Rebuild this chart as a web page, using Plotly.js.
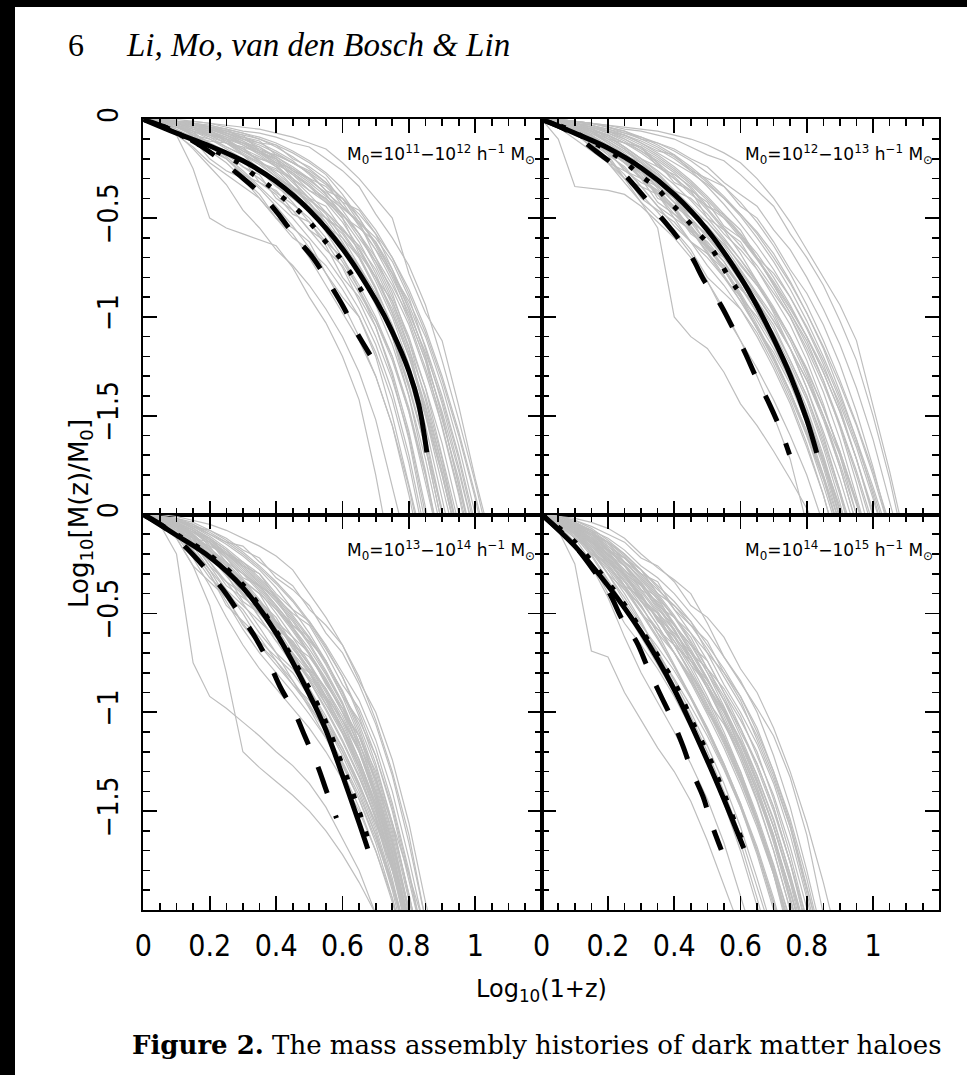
<!DOCTYPE html>
<html><head><meta charset="utf-8">
<script src="https://cdn.plot.ly/plotly-3.0.1.min.js"></script>
<style>html,body{margin:0;padding:0;background:#fff;}#chart{width:967px;height:1075px;}</style>
</head><body><div id="chart"></div>
<script>
// shared redshift grid (log10(1+z)) for the individual halo histories
const xGrid = [0,0.05,0.1,0.15,0.2,0.25,0.3,0.35,0.4,0.45,0.5,0.55,0.6,0.65,0.7,0.75,0.8,0.85,0.9,0.95,1,1.05,1.1];

const panelLabels = [
  "M<sub>0</sub>=10<sup>11</sup>−10<sup>12</sup> h<sup>−1</sup> M<sub>⊙</sub>",
  "M<sub>0</sub>=10<sup>12</sup>−10<sup>13</sup> h<sup>−1</sup> M<sub>⊙</sub>",
  "M<sub>0</sub>=10<sup>13</sup>−10<sup>14</sup> h<sup>−1</sup> M<sub>⊙</sub>",
  "M<sub>0</sub>=10<sup>14</sup>−10<sup>15</sup> h<sup>−1</sup> M<sub>⊙</sub>"
];
const xTickVals = [0,0.2,0.4,0.6,0.8,1,1.2];
const xTickText = ["0","0.2","0.4","0.6","0.8","1",""];
const yTickVals = [0,-0.5,-1,-1.5,-2];
const yTickText = ["0","−0.5","−1","−1.5",""];

// ---- panel 1: 1e11-1e12 ----
const grayTL = [
 [0,-0.02,-0.08,-0.25,-0.50,-0.55,-0.58,-0.61,-0.64,-0.75,-0.90,-1.03,-1.20,-1.42,-1.80,-2.25],
 [0,-0.02,-0.07,-0.15,-0.24,-0.33,-0.46,-0.55,-0.66,-0.74,-0.84,-0.96,-1.10,-1.28,-1.52,-1.85,-2.2],
 [0,-0.01,-0.05,-0.10,-0.16,-0.22,-0.30,-0.40,-0.50,-0.58,-0.70,-0.84,-0.98,-1.12,-1.30,-1.55,-1.90,-2.3],
 [0,-0.01,-0.03,-0.06,-0.10,-0.15,-0.20,-0.26,-0.33,-0.42,-0.52,-0.62,-0.75,-0.92,-1.10,-1.32,-1.60,-2.0,-2.4],
 [0,0,-0.02,-0.05,-0.08,-0.12,-0.17,-0.22,-0.29,-0.36,-0.45,-0.57,-0.70,-0.86,-1.02,-1.22,-1.48,-1.80,-2.2],
 [0,-0.01,-0.02,-0.04,-0.07,-0.10,-0.13,-0.18,-0.24,-0.32,-0.40,-0.48,-0.60,-0.74,-0.90,-1.10,-1.36,-1.66,-1.98,-2.3],
 [0,0,-0.01,-0.03,-0.05,-0.08,-0.12,-0.16,-0.21,-0.27,-0.34,-0.42,-0.52,-0.65,-0.80,-0.96,-1.18,-1.45,-1.75,-2.1],
 [0,0,-0.01,-0.02,-0.04,-0.06,-0.09,-0.12,-0.16,-0.21,-0.28,-0.36,-0.46,-0.58,-0.74,-0.92,-1.12,-1.36,-1.64,-1.98,-2.35],
 [0,0,0,-0.01,-0.02,-0.03,-0.04,-0.05,-0.07,-0.09,-0.12,-0.15,-0.22,-0.30,-0.40,-0.50,-0.78,-0.98,-1.12,-1.45,-1.82,-2.15],
 [0,0,-0.01,-0.02,-0.03,-0.05,-0.07,-0.09,-0.12,-0.16,-0.21,-0.27,-0.35,-0.45,-0.56,-0.70,-0.88,-1.08,-1.32,-1.60,-1.92,-2.3],
 [0,-0.01,-0.03,-0.05,-0.07,-0.11,-0.16,-0.20,-0.23,-0.27,-0.33,-0.41,-0.50,-0.62,-0.78,-0.98,-1.20,-1.48,-1.80,-2.15],
 [0,-0.01,-0.02,-0.05,-0.09,-0.14,-0.18,-0.23,-0.29,-0.35,-0.43,-0.50,-0.56,-0.66,-0.82,-1.00,-1.24,-1.55,-1.92,-2.3],
 [0,-0.01,-0.03,-0.07,-0.12,-0.18,-0.24,-0.30,-0.37,-0.43,-0.50,-0.60,-0.72,-0.86,-1.05,-1.28,-1.58,-1.95,-2.35],
 [0,0,-0.02,-0.04,-0.06,-0.09,-0.13,-0.17,-0.22,-0.25,-0.30,-0.38,-0.48,-0.60,-0.72,-0.86,-1.04,-1.28,-1.55,-1.88,-2.25],
 [0,0,-0.01,-0.03,-0.05,-0.08,-0.11,-0.15,-0.19,-0.24,-0.30,-0.38,-0.49,-0.55,-0.62,-0.76,-0.94,-1.15,-1.40,-1.70,-2.05],
 [0,-0.01,-0.02,-0.04,-0.06,-0.09,-0.12,-0.16,-0.20,-0.26,-0.32,-0.39,-0.45,-0.52,-0.62,-0.78,-1.00,-1.22,-1.48,-1.78,-2.12],
 [0,0,-0.01,-0.02,-0.04,-0.06,-0.08,-0.10,-0.13,-0.17,-0.22,-0.28,-0.38,-0.50,-0.63,-0.78,-0.92,-1.10,-1.35,-1.65,-2.0,-2.35],
 [0,-0.01,-0.02,-0.03,-0.05,-0.07,-0.10,-0.14,-0.19,-0.25,-0.31,-0.37,-0.44,-0.53,-0.66,-0.82,-1.02,-1.26,-1.52,-1.82,-2.2],
 [0,0,-0.01,-0.03,-0.06,-0.10,-0.15,-0.21,-0.28,-0.35,-0.41,-0.47,-0.55,-0.66,-0.80,-0.98,-1.20,-1.46,-1.78,-2.15],
 [0,-0.01,-0.03,-0.06,-0.09,-0.12,-0.16,-0.21,-0.27,-0.34,-0.42,-0.52,-0.64,-0.78,-0.94,-1.14,-1.40,-1.72,-2.1],
 [0,-0.01,-0.04,-0.08,-0.13,-0.19,-0.26,-0.34,-0.42,-0.50,-0.60,-0.70,-0.82,-0.96,-1.14,-1.38,-1.70,-2.1],
 [0,0,-0.01,-0.02,-0.03,-0.05,-0.07,-0.10,-0.14,-0.19,-0.25,-0.32,-0.40,-0.48,-0.58,-0.70,-0.86,-1.06,-1.30,-1.58,-1.90,-2.25],
 [0,-0.01,-0.02,-0.04,-0.07,-0.11,-0.15,-0.19,-0.24,-0.30,-0.38,-0.47,-0.57,-0.69,-0.85,-1.05,-1.30,-1.62,-2.0,-2.4],
 [0,0,-0.02,-0.04,-0.08,-0.12,-0.18,-0.25,-0.32,-0.40,-0.47,-0.54,-0.63,-0.75,-0.90,-1.10,-1.35,-1.66,-2.05],
 [0,0,-0.01,-0.02,-0.04,-0.07,-0.11,-0.16,-0.22,-0.28,-0.34,-0.40,-0.48,-0.58,-0.70,-0.88,-1.12,-1.42,-1.75,-2.12],
 [0,-0.01,-0.02,-0.03,-0.05,-0.08,-0.12,-0.17,-0.23,-0.31,-0.40,-0.50,-0.62,-0.76,-0.90,-1.06,-1.25,-1.50,-1.80,-2.15],
 [0,0,-0.01,-0.02,-0.04,-0.07,-0.10,-0.13,-0.17,-0.22,-0.27,-0.33,-0.40,-0.50,-0.64,-0.80,-0.98,-1.18,-1.42,-1.72,-2.08],
 [0,-0.02,-0.05,-0.09,-0.14,-0.20,-0.27,-0.35,-0.44,-0.54,-0.65,-0.78,-0.93,-1.10,-1.30,-1.55,-1.86,-2.25],
 [0,-0.01,-0.02,-0.09,-0.11,-0.12,-0.14,-0.22,-0.26,-0.30,-0.45,-0.50,-0.58,-0.70,-0.86,-1.10,-1.40,-1.78,-2.2],
 [0,0,-0.02,-0.03,-0.05,-0.12,-0.14,-0.17,-0.20,-0.30,-0.36,-0.40,-0.50,-0.68,-0.80,-0.92,-1.15,-1.50,-1.85,-2.2],
 [0,-0.01,-0.04,-0.06,-0.14,-0.18,-0.20,-0.32,-0.38,-0.48,-0.52,-0.64,-0.80,-0.90,-1.05,-1.30,-1.62,-2.05],
 [0,0,-0.01,-0.02,-0.04,-0.05,-0.10,-0.12,-0.13,-0.20,-0.24,-0.30,-0.42,-0.46,-0.58,-0.76,-0.96,-1.20,-1.50,-1.86,-2.2],
 [0,-0.03,-0.06,-0.10,-0.20,-0.26,-0.30,-0.38,-0.50,-0.55,-0.62,-0.78,-0.90,-1.00,-1.20,-1.50,-1.85,-2.2],
 [0,0,-0.01,-0.03,-0.04,-0.06,-0.08,-0.16,-0.18,-0.22,-0.27,-0.36,-0.40,-0.52,-0.70,-0.84,-1.00,-1.22,-1.56,-1.90,-2.3],
 [0,-0.01,-0.02,-0.06,-0.08,-0.10,-0.18,-0.22,-0.25,-0.34,-0.40,-0.44,-0.56,-0.64,-0.76,-0.94,-1.16,-1.40,-1.72,-2.1],
 [0,0,-0.01,-0.01,-0.02,-0.04,-0.06,-0.07,-0.09,-0.12,-0.14,-0.20,-0.26,-0.34,-0.48,-0.60,-0.74,-0.94,-1.22,-1.52,-1.84,-2.2],
 [0,-0.02,-0.04,-0.07,-0.12,-0.16,-0.24,-0.28,-0.40,-0.46,-0.56,-0.66,-0.74,-0.88,-1.02,-1.20,-1.48,-1.84,-2.2],
 [0,0,-0.01,-0.02,-0.05,-0.07,-0.09,-0.11,-0.18,-0.22,-0.26,-0.32,-0.44,-0.52,-0.60,-0.72,-0.90,-1.16,-1.44,-1.76,-2.12],
 [0,-0.02,-0.06,-0.12,-0.16,-0.20,-0.28,-0.32,-0.36,-0.46,-0.56,-0.62,-0.70,-0.84,-1.00,-1.20,-1.46,-1.80,-2.2],
 [0,-0.01,-0.03,-0.08,-0.10,-0.14,-0.18,-0.26,-0.30,-0.34,-0.42,-0.54,-0.60,-0.70,-0.86,-1.04,-1.28,-1.60,-1.98,-2.3],
 [0,-0.02,-0.04,-0.08,-0.14,-0.18,-0.22,-0.26,-0.34,-0.40,-0.44,-0.52,-0.64,-0.74,-0.88,-1.08,-1.34,-1.66,-2.05],
 [0,-0.01,-0.02,-0.04,-0.06,-0.10,-0.16,-0.20,-0.22,-0.28,-0.36,-0.42,-0.48,-0.58,-0.72,-0.90,-1.10,-1.36,-1.70,-2.05],
 [0,-0.03,-0.08,-0.14,-0.22,-0.28,-0.34,-0.40,-0.50,-0.60,-0.66,-0.74,-0.86,-1.00,-1.18,-1.42,-1.74,-2.15],
 [0,0,-0.02,-0.04,-0.08,-0.10,-0.12,-0.14,-0.20,-0.26,-0.30,-0.34,-0.42,-0.54,-0.66,-0.78,-0.96,-1.20,-1.50,-1.84,-2.2]
];
const solidTLx = [0,0.1,0.2,0.3,0.4,0.5,0.6,0.7,0.75,0.8,0.83,0.854];
const solidTLy = [0,-0.07,-0.135,-0.21,-0.315,-0.46,-0.655,-0.915,-1.075,-1.275,-1.446,-1.686];
const dotTLx = [0,0.08,0.151,0.231,0.281,0.331,0.382,0.422,0.470,0.510,0.547,0.587,0.620,0.653,0.683];
const dotTLy = [0,-0.05,-0.115,-0.172,-0.214,-0.278,-0.340,-0.399,-0.467,-0.538,-0.615,-0.690,-0.767,-0.855,-0.935];
const dashTLx = [0,0.08,0.15,0.216,0.291,0.357,0.407,0.457,0.512,0.557,0.602,0.638,0.683];
const dashTLy = [0,-0.05,-0.11,-0.184,-0.285,-0.383,-0.480,-0.593,-0.703,-0.821,-0.947,-1.065,-1.192];

// ---- panel 2: 1e12-1e13 ----
const grayTR = [
 [0,-0.10,-0.34,-0.35,-0.36,-0.38,-0.44,-0.52,-0.60,-0.70,-0.82,-0.96,-1.12,-1.30,-1.50,-1.72,-2.05],
 [0,-0.02,-0.06,-0.12,-0.20,-0.30,-0.42,-0.55,-1.00,-1.10,-1.16,-1.28,-1.44,-1.55,-1.68,-1.82,-1.97,-2.15],
 [0,-0.02,-0.07,-0.14,-0.22,-0.30,-0.38,-0.47,-0.57,-0.68,-0.82,-0.98,-1.12,-1.26,-1.42,-1.60,-1.80,-2.05],
 [0,-0.01,-0.04,-0.08,-0.14,-0.22,-0.30,-0.38,-0.46,-0.54,-0.64,-0.76,-0.90,-1.06,-1.22,-1.40,-1.60,-1.82,-2.08],
 [0,-0.01,-0.03,-0.06,-0.10,-0.15,-0.22,-0.30,-0.40,-0.50,-0.60,-0.70,-0.82,-0.96,-1.12,-1.30,-1.50,-1.72,-1.96,-2.22],
 [0,0,-0.02,-0.04,-0.07,-0.11,-0.16,-0.22,-0.29,-0.37,-0.46,-0.56,-0.68,-0.82,-0.98,-1.16,-1.36,-1.58,-1.82,-2.1],
 [0,0,-0.01,-0.02,-0.03,-0.04,-0.05,-0.06,-0.08,-0.10,-0.13,-0.17,-0.22,-0.30,-0.40,-0.52,-0.66,-0.80,-0.94,-1.12,-1.45,-1.78,-2.15],
 [0,0,-0.01,-0.03,-0.05,-0.07,-0.09,-0.12,-0.16,-0.21,-0.27,-0.34,-0.42,-0.52,-0.64,-0.78,-0.94,-1.12,-1.32,-1.54,-1.78,-2.05],
 [0,-0.01,-0.03,-0.05,-0.08,-0.12,-0.17,-0.23,-0.30,-0.38,-0.44,-0.50,-0.58,-0.68,-0.80,-0.94,-1.10,-1.28,-1.48,-1.72,-2.0,-2.3],
 [0,-0.01,-0.02,-0.04,-0.06,-0.09,-0.13,-0.18,-0.24,-0.31,-0.39,-0.48,-0.58,-0.70,-0.84,-0.98,-1.14,-1.32,-1.54,-1.78,-2.05],
 [0,0,-0.02,-0.05,-0.09,-0.14,-0.20,-0.26,-0.33,-0.41,-0.50,-0.60,-0.71,-0.83,-0.96,-1.10,-1.26,-1.46,-1.68,-1.94,-2.2],
 [0,-0.02,-0.05,-0.10,-0.17,-0.25,-0.34,-0.44,-0.54,-0.62,-0.70,-0.80,-0.92,-1.05,-1.20,-1.38,-1.58,-1.82,-2.1],
 [0,-0.01,-0.02,-0.03,-0.05,-0.08,-0.12,-0.17,-0.22,-0.27,-0.33,-0.40,-0.48,-0.57,-0.68,-0.82,-0.98,-1.16,-1.38,-1.62,-1.90,-2.2],
 [0,-0.01,-0.04,-0.09,-0.15,-0.21,-0.27,-0.34,-0.42,-0.50,-0.59,-0.69,-0.80,-0.92,-1.06,-1.22,-1.40,-1.62,-1.88,-2.15],
 [0,0,-0.01,-0.02,-0.04,-0.06,-0.09,-0.13,-0.18,-0.24,-0.31,-0.39,-0.48,-0.58,-0.70,-0.83,-0.98,-1.15,-1.34,-1.55,-1.80,-2.08],
 [0,-0.02,-0.06,-0.11,-0.16,-0.22,-0.29,-0.37,-0.46,-0.56,-0.67,-0.79,-0.92,-1.06,-1.21,-1.38,-1.58,-1.80,-2.05],
 [0,-0.01,-0.03,-0.06,-0.11,-0.17,-0.24,-0.32,-0.40,-0.48,-0.55,-0.63,-0.73,-0.84,-0.97,-1.12,-1.30,-1.50,-1.74,-2.0,-2.3],
 [0,0,-0.01,-0.03,-0.06,-0.10,-0.15,-0.20,-0.26,-0.33,-0.41,-0.50,-0.60,-0.71,-0.83,-0.96,-1.10,-1.26,-1.44,-1.66,-1.92,-2.2],
 [0,-0.02,-0.05,-0.09,-0.14,-0.20,-0.28,-0.38,-0.48,-0.57,-0.65,-0.74,-0.85,-0.98,-1.13,-1.30,-1.50,-1.74,-2.02],
 [0,-0.01,-0.02,-0.04,-0.07,-0.10,-0.14,-0.19,-0.25,-0.32,-0.40,-0.49,-0.59,-0.70,-0.82,-0.95,-1.10,-1.28,-1.48,-1.72,-1.98,-2.25],
 [0,-0.01,-0.03,-0.07,-0.12,-0.18,-0.25,-0.33,-0.42,-0.52,-0.63,-0.75,-0.88,-1.02,-1.16,-1.32,-1.50,-1.72,-1.98,-2.25],
 [0,0,-0.02,-0.04,-0.06,-0.08,-0.11,-0.15,-0.20,-0.26,-0.34,-0.43,-0.53,-0.64,-0.76,-0.90,-1.05,-1.22,-1.42,-1.64,-1.88,-2.15],
 [0,-0.01,-0.03,-0.05,-0.09,-0.14,-0.20,-0.27,-0.36,-0.46,-0.57,-0.68,-0.79,-0.90,-1.02,-1.16,-1.32,-1.52,-1.76,-2.05],
 [0,-0.01,-0.02,-0.05,-0.08,-0.12,-0.16,-0.21,-0.27,-0.35,-0.45,-0.55,-0.64,-0.74,-0.86,-1.00,-1.16,-1.34,-1.55,-1.80,-2.08],
 [0,-0.01,-0.04,-0.08,-0.13,-0.19,-0.26,-0.35,-0.45,-0.55,-0.65,-0.76,-0.89,-1.04,-1.20,-1.38,-1.60,-1.85,-2.12],
 [0,0,-0.01,-0.02,-0.04,-0.07,-0.10,-0.14,-0.19,-0.25,-0.32,-0.40,-0.49,-0.60,-0.72,-0.86,-1.02,-1.20,-1.40,-1.62,-1.86,-2.12],
 [0,-0.02,-0.04,-0.07,-0.11,-0.16,-0.22,-0.29,-0.37,-0.46,-0.56,-0.66,-0.77,-0.89,-1.02,-1.16,-1.32,-1.50,-1.70,-1.94,-2.2],
 [0,-0.01,-0.03,-0.06,-0.10,-0.15,-0.21,-0.28,-0.36,-0.44,-0.52,-0.61,-0.71,-0.82,-0.95,-1.10,-1.27,-1.46,-1.68,-1.93,-2.2],
 [0,-0.01,-0.03,-0.12,-0.14,-0.18,-0.30,-0.34,-0.40,-0.52,-0.58,-0.66,-0.82,-0.92,-1.04,-1.22,-1.40,-1.64,-1.90,-2.2],
 [0,0,-0.02,-0.04,-0.10,-0.12,-0.14,-0.24,-0.28,-0.34,-0.44,-0.48,-0.56,-0.70,-0.78,-0.90,-1.06,-1.24,-1.46,-1.72,-2.0,-2.3],
 [0,-0.02,-0.05,-0.08,-0.16,-0.22,-0.26,-0.40,-0.44,-0.50,-0.64,-0.70,-0.80,-0.96,-1.08,-1.24,-1.42,-1.66,-1.94,-2.25],
 [0,0,-0.01,-0.02,-0.03,-0.05,-0.06,-0.08,-0.10,-0.14,-0.18,-0.21,-0.28,-0.36,-0.44,-0.58,-0.70,-0.84,-1.02,-1.22,-1.50,-1.82,-2.2],
 [0,-0.01,-0.04,-0.06,-0.08,-0.14,-0.20,-0.24,-0.30,-0.36,-0.50,-0.56,-0.62,-0.76,-0.88,-1.00,-1.18,-1.38,-1.62,-1.90,-2.2],
 [0,-0.03,-0.06,-0.10,-0.18,-0.30,-0.34,-0.38,-0.50,-0.62,-0.68,-0.76,-0.90,-1.06,-1.18,-1.34,-1.54,-1.80,-2.1],
 [0,0,-0.02,-0.03,-0.06,-0.08,-0.12,-0.16,-0.18,-0.26,-0.30,-0.34,-0.44,-0.50,-0.62,-0.76,-0.88,-1.04,-1.24,-1.48,-1.76,-2.08],
 [0,-0.01,-0.03,-0.05,-0.08,-0.12,-0.14,-0.22,-0.32,-0.36,-0.42,-0.54,-0.60,-0.70,-0.84,-0.98,-1.12,-1.32,-1.56,-1.84,-2.15],
 [0,-0.02,-0.04,-0.10,-0.14,-0.20,-0.30,-0.36,-0.44,-0.56,-0.62,-0.72,-0.86,-0.94,-1.10,-1.28,-1.48,-1.72,-2.0,-2.3],
 [0,0,-0.01,-0.02,-0.04,-0.06,-0.10,-0.12,-0.15,-0.20,-0.24,-0.32,-0.38,-0.44,-0.56,-0.66,-0.80,-0.96,-1.14,-1.36,-1.62,-1.92,-2.25],
 [0,-0.02,-0.06,-0.14,-0.20,-0.28,-0.40,-0.46,-0.52,-0.62,-0.74,-0.84,-0.96,-1.10,-1.26,-1.44,-1.66,-1.90,-2.2],
 [0,-0.03,-0.08,-0.12,-0.18,-0.24,-0.34,-0.44,-0.50,-0.56,-0.68,-0.80,-0.90,-1.00,-1.14,-1.32,-1.52,-1.76,-2.05],
 [0,-0.01,-0.04,-0.10,-0.16,-0.26,-0.32,-0.36,-0.46,-0.58,-0.64,-0.72,-0.84,-0.98,-1.12,-1.30,-1.50,-1.74,-2.02],
 [0,-0.02,-0.05,-0.09,-0.16,-0.20,-0.26,-0.34,-0.42,-0.48,-0.54,-0.64,-0.76,-0.88,-1.00,-1.16,-1.36,-1.60,-1.88,-2.2],
 [0,-0.04,-0.10,-0.16,-0.22,-0.32,-0.42,-0.50,-0.56,-0.66,-0.80,-0.88,-0.96,-1.08,-1.24,-1.42,-1.64,-1.90,-2.2],
 [0,-0.02,-0.04,-0.08,-0.14,-0.22,-0.26,-0.30,-0.38,-0.46,-0.52,-0.62,-0.74,-0.84,-0.96,-1.10,-1.28,-1.50,-1.76,-2.05],
 [0,-0.01,-0.03,-0.06,-0.12,-0.18,-0.22,-0.28,-0.36,-0.40,-0.48,-0.58,-0.66,-0.76,-0.90,-1.04,-1.22,-1.44,-1.70,-2.0,-2.3],
 [0,-0.03,-0.06,-0.12,-0.22,-0.26,-0.30,-0.42,-0.48,-0.54,-0.66,-0.74,-0.84,-0.98,-1.10,-1.26,-1.46,-1.70,-1.98,-2.3]
];
const solidTRx = [0,0.1,0.2,0.3,0.4,0.5,0.6,0.65,0.7,0.75,0.8,0.83];
const solidTRy = [0,-0.07,-0.145,-0.245,-0.38,-0.56,-0.80,-0.945,-1.11,-1.295,-1.52,-1.688];
const dotTRx = [0,0.08,0.151,0.206,0.256,0.296,0.346,0.387,0.427,0.467,0.507,0.537,0.567,0.602];
const dotTRy = [0,-0.05,-0.113,-0.164,-0.223,-0.282,-0.346,-0.420,-0.487,-0.565,-0.639,-0.720,-0.804,-0.888];
const dashTRx = [0,0.085,0.166,0.236,0.291,0.346,0.396,0.452,0.492,0.537,0.572,0.612,0.648,0.688,0.723,0.748];
const dashTRy = [0,-0.063,-0.164,-0.256,-0.357,-0.467,-0.568,-0.695,-0.821,-0.930,-1.040,-1.175,-1.309,-1.444,-1.579,-1.697];

// ---- panel 3: 1e13-1e14 ----
const grayBL = [
 [0,-0.05,-0.20,-0.75,-0.92,-0.98,-1.05,-1.12,-1.20,-1.27,-1.36,-1.48,-1.64,-1.80,-2.02,-2.3],
 [0,-0.04,-0.12,-0.26,-0.46,-0.80,-1.20,-1.28,-1.35,-1.42,-1.50,-1.60,-1.72,-1.86,-2.02,-2.3],
 [0,0,-0.01,-0.03,-0.05,-0.08,-0.12,-0.16,-0.21,-0.28,-0.40,-0.52,-0.66,-0.82,-1.04,-1.30,-1.62,-2.05],
 [0,-0.02,-0.06,-0.12,-0.20,-0.29,-0.40,-0.52,-0.64,-0.76,-0.88,-1.02,-1.18,-1.36,-1.56,-1.80,-2.08],
 [0,-0.01,-0.04,-0.08,-0.14,-0.21,-0.29,-0.38,-0.48,-0.59,-0.71,-0.85,-1.00,-1.20,-1.44,-1.72,-2.05],
 [0,-0.02,-0.05,-0.10,-0.17,-0.25,-0.34,-0.44,-0.55,-0.67,-0.80,-0.94,-1.10,-1.28,-1.50,-1.76,-2.05],
 [0,-0.01,-0.03,-0.06,-0.10,-0.15,-0.21,-0.28,-0.37,-0.48,-0.60,-0.74,-0.90,-1.10,-1.34,-1.64,-2.0,-2.3],
 [0,-0.03,-0.08,-0.15,-0.24,-0.34,-0.45,-0.57,-0.70,-0.84,-0.98,-1.13,-1.30,-1.48,-1.70,-1.96,-2.25],
 [0,-0.02,-0.06,-0.14,-0.26,-0.38,-0.46,-0.54,-0.62,-0.72,-0.84,-0.98,-1.14,-1.32,-1.54,-1.80,-2.1],
 [0,-0.01,-0.03,-0.07,-0.12,-0.18,-0.26,-0.35,-0.44,-0.54,-0.66,-0.80,-0.96,-1.18,-1.44,-1.75,-2.1],
 [0,-0.02,-0.07,-0.16,-0.28,-0.42,-0.55,-0.66,-0.76,-0.86,-0.97,-1.10,-1.25,-1.42,-1.62,-1.86,-2.15],
 [0,-0.01,-0.04,-0.09,-0.15,-0.22,-0.30,-0.39,-0.50,-0.62,-0.75,-0.89,-1.04,-1.24,-1.48,-1.78,-2.15],
 [0,-0.02,-0.05,-0.09,-0.14,-0.20,-0.27,-0.36,-0.46,-0.57,-0.70,-0.84,-1.00,-1.16,-1.34,-1.56,-1.82,-2.1],
 [0,-0.03,-0.09,-0.18,-0.30,-0.44,-0.58,-0.70,-0.80,-0.90,-1.01,-1.13,-1.27,-1.44,-1.64,-1.88,-2.18],
 [0,-0.01,-0.02,-0.05,-0.09,-0.14,-0.20,-0.27,-0.35,-0.44,-0.55,-0.68,-0.82,-1.00,-1.22,-1.50,-1.84,-2.2],
 [0,-0.02,-0.05,-0.11,-0.19,-0.28,-0.37,-0.46,-0.56,-0.66,-0.78,-0.92,-1.08,-1.28,-1.52,-1.80,-2.15],
 [0,-0.01,-0.03,-0.07,-0.13,-0.20,-0.28,-0.37,-0.47,-0.58,-0.70,-0.83,-0.98,-1.18,-1.42,-1.72,-2.08],
 [0,-0.02,-0.07,-0.13,-0.20,-0.27,-0.35,-0.45,-0.57,-0.70,-0.84,-0.99,-1.15,-1.33,-1.53,-1.76,-2.04],
 [0,-0.01,-0.03,-0.06,-0.11,-0.17,-0.24,-0.32,-0.41,-0.51,-0.62,-0.76,-0.92,-1.12,-1.36,-1.66,-2.02,-2.3],
 [0,-0.02,-0.04,-0.08,-0.13,-0.19,-0.26,-0.34,-0.43,-0.53,-0.65,-0.79,-0.95,-1.15,-1.40,-1.70,-2.05],
 [0,-0.03,-0.08,-0.15,-0.22,-0.30,-0.38,-0.47,-0.58,-0.72,-0.88,-1.04,-1.20,-1.37,-1.56,-1.78,-2.05],
 [0,-0.01,-0.04,-0.10,-0.18,-0.26,-0.33,-0.40,-0.48,-0.57,-0.68,-0.81,-0.96,-1.15,-1.38,-1.66,-2.0,-2.3],
 [0,-0.02,-0.06,-0.12,-0.21,-0.31,-0.41,-0.50,-0.60,-0.71,-0.83,-0.96,-1.11,-1.30,-1.54,-1.84,-2.2],
 [0,-0.01,-0.02,-0.04,-0.08,-0.13,-0.19,-0.26,-0.34,-0.43,-0.54,-0.67,-0.82,-1.02,-1.26,-1.56,-1.92,-2.3],
 [0,-0.02,-0.06,-0.11,-0.17,-0.24,-0.33,-0.43,-0.54,-0.66,-0.79,-0.93,-1.08,-1.26,-1.48,-1.76,-2.12],
 [0,-0.01,-0.05,-0.11,-0.18,-0.26,-0.35,-0.45,-0.55,-0.65,-0.76,-0.88,-1.02,-1.20,-1.42,-1.70,-2.06],
 [0,-0.04,-0.11,-0.22,-0.36,-0.52,-0.66,-0.78,-0.88,-0.98,-1.08,-1.20,-1.34,-1.50,-1.70,-1.94,-2.25],
 [0,-0.01,-0.03,-0.07,-0.12,-0.18,-0.25,-0.33,-0.42,-0.52,-0.63,-0.75,-0.89,-1.08,-1.32,-1.62,-2.0,-2.3],
 [0,-0.03,-0.06,-0.16,-0.20,-0.24,-0.38,-0.44,-0.52,-0.66,-0.72,-0.84,-1.00,-1.12,-1.30,-1.58,-1.92,-2.3],
 [0,-0.02,-0.08,-0.12,-0.16,-0.28,-0.34,-0.40,-0.54,-0.62,-0.70,-0.86,-0.98,-1.12,-1.34,-1.60,-1.94,-2.3],
 [0,-0.01,-0.02,-0.06,-0.08,-0.12,-0.18,-0.22,-0.32,-0.38,-0.46,-0.60,-0.70,-0.86,-1.06,-1.32,-1.66,-2.05],
 [0,-0.04,-0.10,-0.14,-0.26,-0.34,-0.40,-0.52,-0.64,-0.70,-0.80,-0.96,-1.08,-1.24,-1.46,-1.72,-2.05],
 [0,-0.02,-0.04,-0.08,-0.16,-0.20,-0.24,-0.30,-0.42,-0.50,-0.56,-0.70,-0.86,-0.98,-1.18,-1.46,-1.80,-2.2],
 [0,-0.01,-0.05,-0.12,-0.14,-0.22,-0.32,-0.36,-0.42,-0.56,-0.64,-0.74,-0.92,-1.04,-1.22,-1.48,-1.82,-2.2],
 [0,-0.02,-0.06,-0.10,-0.22,-0.30,-0.36,-0.50,-0.58,-0.64,-0.76,-0.92,-1.04,-1.18,-1.40,-1.68,-2.02,-2.3],
 [0,-0.01,-0.03,-0.05,-0.10,-0.14,-0.16,-0.24,-0.30,-0.36,-0.48,-0.56,-0.66,-0.84,-1.00,-1.24,-1.56,-1.96,-2.3],
 [0,-0.03,-0.07,-0.14,-0.18,-0.28,-0.40,-0.46,-0.54,-0.68,-0.78,-0.88,-1.04,-1.20,-1.40,-1.66,-2.0,-2.3],
 [0,-0.02,-0.05,-0.09,-0.12,-0.20,-0.26,-0.30,-0.40,-0.48,-0.54,-0.66,-0.80,-0.94,-1.14,-1.40,-1.74,-2.12],
 [0,-0.03,-0.10,-0.20,-0.32,-0.40,-0.48,-0.60,-0.70,-0.78,-0.90,-1.04,-1.18,-1.36,-1.58,-1.86,-2.2],
 [0,-0.04,-0.09,-0.18,-0.30,-0.46,-0.54,-0.62,-0.74,-0.86,-0.94,-1.06,-1.22,-1.40,-1.62,-1.90,-2.25],
 [0,-0.02,-0.06,-0.14,-0.20,-0.30,-0.44,-0.50,-0.58,-0.72,-0.82,-0.94,-1.10,-1.28,-1.50,-1.78,-2.12],
 [0,-0.05,-0.12,-0.26,-0.34,-0.42,-0.56,-0.66,-0.74,-0.84,-0.96,-1.10,-1.26,-1.44,-1.66,-1.94,-2.3],
 [0,-0.02,-0.05,-0.10,-0.18,-0.26,-0.36,-0.48,-0.56,-0.64,-0.76,-0.90,-1.06,-1.24,-1.46,-1.74,-2.1],
 [0,-0.03,-0.08,-0.12,-0.24,-0.36,-0.42,-0.48,-0.62,-0.74,-0.80,-0.92,-1.08,-1.26,-1.48,-1.76,-2.1],
 [0,-0.01,-0.04,-0.08,-0.14,-0.24,-0.30,-0.36,-0.46,-0.56,-0.62,-0.74,-0.90,-1.06,-1.28,-1.56,-1.92,-2.3],
 [0,-0.04,-0.11,-0.18,-0.28,-0.38,-0.50,-0.64,-0.72,-0.80,-0.92,-1.06,-1.20,-1.38,-1.60,-1.88,-2.2]
];
const solidBLx = [0,0.1,0.2,0.3,0.4,0.5,0.55,0.6,0.65,0.676];
const solidBLy = [0,-0.105,-0.215,-0.37,-0.60,-0.91,-1.09,-1.32,-1.56,-1.69];
const dotBLx = [0,0.1,0.2,0.3,0.4,0.5,0.55,0.6,0.65,0.685];
const dotBLy = [0,-0.10,-0.205,-0.355,-0.59,-0.88,-1.05,-1.27,-1.50,-1.69];
const dashBLx = [0,0.06,0.131,0.191,0.241,0.296,0.336,0.382,0.412,0.457,0.487,0.527,0.55,0.582];
const dashBLy = [0,-0.06,-0.171,-0.281,-0.382,-0.517,-0.618,-0.761,-0.871,-1.005,-1.123,-1.28,-1.39,-1.536];

// ---- panel 4: 1e14-1e15 ----
const grayBR = [
 [0,-0.08,-0.25,-0.69,-0.72,-0.90,-1.04,-1.18,-1.30,-1.45,-1.65,-1.88,-2.1],
 [0,-0.01,-0.02,-0.04,-0.07,-0.12,-0.20,-0.27,-0.33,-0.40,-0.55,-0.72,-0.85,-0.98,-1.12,-1.33,-1.62,-2.02,-2.3],
 [0,-0.03,-0.09,-0.18,-0.28,-0.40,-0.54,-0.70,-0.86,-1.02,-1.20,-1.40,-1.62,-1.88,-2.15],
 [0,-0.02,-0.07,-0.14,-0.23,-0.33,-0.44,-0.56,-0.70,-0.85,-1.01,-1.18,-1.37,-1.58,-1.82,-2.1],
 [0,-0.02,-0.05,-0.10,-0.17,-0.25,-0.35,-0.46,-0.58,-0.72,-0.88,-1.05,-1.24,-1.45,-1.70,-2.0,-2.3],
 [0,-0.03,-0.08,-0.15,-0.24,-0.34,-0.46,-0.60,-0.76,-0.92,-1.08,-1.26,-1.46,-1.70,-1.98,-2.3],
 [0,-0.04,-0.12,-0.24,-0.40,-0.55,-0.66,-0.78,-0.92,-1.08,-1.26,-1.46,-1.70,-1.98,-2.3],
 [0,-0.02,-0.06,-0.12,-0.20,-0.29,-0.39,-0.50,-0.62,-0.76,-0.92,-1.10,-1.30,-1.52,-1.77,-2.05],
 [0,-0.01,-0.04,-0.08,-0.14,-0.21,-0.30,-0.40,-0.51,-0.64,-0.78,-0.94,-1.12,-1.32,-1.55,-1.82,-2.12],
 [0,-0.03,-0.10,-0.20,-0.33,-0.46,-0.58,-0.70,-0.83,-0.97,-1.12,-1.29,-1.48,-1.70,-1.96,-2.25],
 [0,-0.02,-0.06,-0.13,-0.22,-0.32,-0.42,-0.52,-0.64,-0.78,-0.94,-1.12,-1.32,-1.54,-1.80,-2.1],
 [0,-0.01,-0.03,-0.07,-0.13,-0.20,-0.28,-0.37,-0.48,-0.60,-0.74,-0.90,-1.08,-1.28,-1.50,-1.76,-2.05],
 [0,-0.03,-0.08,-0.16,-0.26,-0.37,-0.49,-0.62,-0.77,-0.93,-1.10,-1.28,-1.48,-1.72,-2.0,-2.3],
 [0,-0.02,-0.05,-0.11,-0.19,-0.28,-0.38,-0.49,-0.61,-0.74,-0.88,-1.04,-1.22,-1.42,-1.64,-1.90,-2.2],
 [0,-0.04,-0.10,-0.19,-0.30,-0.42,-0.55,-0.69,-0.84,-1.00,-1.17,-1.36,-1.58,-1.84,-2.12],
 [0,-0.02,-0.07,-0.15,-0.25,-0.36,-0.47,-0.58,-0.70,-0.83,-0.98,-1.15,-1.34,-1.56,-1.82,-2.12],
 [0,-0.01,-0.04,-0.09,-0.16,-0.24,-0.33,-0.43,-0.55,-0.68,-0.83,-1.00,-1.18,-1.38,-1.62,-1.90,-2.2],
 [0,-0.03,-0.09,-0.17,-0.27,-0.38,-0.50,-0.63,-0.77,-0.92,-1.08,-1.26,-1.46,-1.68,-1.94,-2.25],
 [0,-0.02,-0.06,-0.11,-0.18,-0.26,-0.35,-0.45,-0.56,-0.69,-0.83,-0.99,-1.16,-1.36,-1.58,-1.84,-2.15],
 [0,-0.03,-0.07,-0.13,-0.21,-0.31,-0.43,-0.56,-0.70,-0.84,-0.99,-1.16,-1.35,-1.56,-1.80,-2.08],
 [0,-0.02,-0.08,-0.17,-0.30,-0.44,-0.56,-0.67,-0.79,-0.93,-1.09,-1.27,-1.47,-1.70,-1.96,-2.25],
 [0,-0.01,-0.05,-0.10,-0.17,-0.26,-0.36,-0.47,-0.59,-0.72,-0.86,-1.02,-1.20,-1.40,-1.63,-1.90,-2.2],
 [0,-0.03,-0.08,-0.14,-0.22,-0.31,-0.41,-0.53,-0.66,-0.80,-0.96,-1.13,-1.32,-1.54,-1.78,-2.06],
 [0,-0.02,-0.05,-0.09,-0.15,-0.22,-0.31,-0.41,-0.52,-0.65,-0.80,-0.97,-1.15,-1.35,-1.58,-1.85,-2.15],
 [0,-0.04,-0.11,-0.21,-0.34,-0.48,-0.62,-0.76,-0.90,-1.05,-1.22,-1.42,-1.66,-1.94,-2.25],
 [0,-0.02,-0.06,-0.12,-0.20,-0.30,-0.41,-0.53,-0.66,-0.81,-0.97,-1.14,-1.33,-1.55,-1.80,-2.1],
 [0,-0.05,-0.14,-0.26,-0.42,-0.62,-0.80,-0.95,-1.10,-1.26,-1.44,-1.66,-1.92,-2.2],
 [0,-0.03,-0.08,-0.20,-0.24,-0.30,-0.44,-0.50,-0.58,-0.74,-0.84,-0.98,-1.20,-1.40,-1.64,-1.94,-2.25],
 [0,-0.02,-0.05,-0.08,-0.18,-0.22,-0.28,-0.40,-0.46,-0.54,-0.70,-0.80,-0.94,-1.14,-1.34,-1.58,-1.88,-2.2],
 [0,-0.04,-0.10,-0.14,-0.22,-0.36,-0.42,-0.50,-0.66,-0.74,-0.86,-1.04,-1.20,-1.40,-1.66,-1.96,-2.3],
 [0,-0.01,-0.03,-0.06,-0.10,-0.14,-0.22,-0.26,-0.34,-0.46,-0.52,-0.62,-0.78,-0.90,-1.08,-1.30,-1.56,-1.86,-2.2],
 [0,-0.03,-0.06,-0.14,-0.18,-0.26,-0.38,-0.44,-0.56,-0.70,-0.78,-0.92,-1.10,-1.26,-1.48,-1.76,-2.08],
 [0,-0.02,-0.06,-0.10,-0.14,-0.24,-0.30,-0.34,-0.48,-0.56,-0.64,-0.80,-0.92,-1.08,-1.30,-1.56,-1.88,-2.2],
 [0,-0.05,-0.12,-0.18,-0.30,-0.38,-0.46,-0.60,-0.70,-0.82,-1.00,-1.12,-1.30,-1.54,-1.82,-2.15],
 [0,-0.01,-0.04,-0.08,-0.12,-0.18,-0.26,-0.32,-0.40,-0.50,-0.60,-0.72,-0.84,-1.00,-1.22,-1.48,-1.80,-2.15],
 [0,-0.02,-0.07,-0.12,-0.20,-0.26,-0.34,-0.46,-0.52,-0.62,-0.78,-0.88,-1.02,-1.22,-1.42,-1.68,-2.0,-2.3],
 [0,-0.03,-0.08,-0.12,-0.18,-0.30,-0.36,-0.42,-0.56,-0.66,-0.74,-0.90,-1.04,-1.20,-1.44,-1.72,-2.05],
 [0,-0.03,-0.10,-0.18,-0.26,-0.36,-0.50,-0.58,-0.66,-0.80,-0.94,-1.06,-1.22,-1.44,-1.70,-2.0,-2.3],
 [0,-0.02,-0.06,-0.14,-0.20,-0.28,-0.36,-0.48,-0.56,-0.66,-0.80,-0.94,-1.08,-1.26,-1.48,-1.76,-2.1],
 [0,-0.04,-0.08,-0.16,-0.24,-0.30,-0.40,-0.54,-0.62,-0.72,-0.88,-1.00,-1.14,-1.34,-1.58,-1.86,-2.2],
 [0,-0.02,-0.05,-0.10,-0.16,-0.22,-0.30,-0.38,-0.46,-0.56,-0.68,-0.82,-0.96,-1.12,-1.32,-1.58,-1.90,-2.25],
 [0,-0.03,-0.07,-0.13,-0.20,-0.30,-0.42,-0.52,-0.60,-0.70,-0.84,-0.98,-1.14,-1.32,-1.54,-1.82,-2.15],
 [0,-0.02,-0.06,-0.10,-0.18,-0.24,-0.32,-0.42,-0.52,-0.60,-0.70,-0.86,-1.00,-1.16,-1.36,-1.62,-1.94,-2.3],
 [0,-0.04,-0.09,-0.14,-0.24,-0.34,-0.44,-0.52,-0.64,-0.76,-0.86,-1.00,-1.18,-1.38,-1.62,-1.92,-2.25],
 [0,-0.01,-0.04,-0.09,-0.14,-0.20,-0.28,-0.36,-0.44,-0.54,-0.66,-0.78,-0.92,-1.10,-1.30,-1.54,-1.84,-2.2]
];
const solidBRx = [0,0.1,0.2,0.3,0.4,0.5,0.55,0.61];
const solidBRy = [0,-0.16,-0.36,-0.595,-0.885,-1.245,-1.44,-1.688];
const dotBRx = [0,0.095,0.18,0.235,0.281,0.346,0.407,0.457,0.507,0.552,0.592,0.617];
const dotBRy = [0,-0.13,-0.30,-0.42,-0.533,-0.702,-0.871,-1.056,-1.233,-1.418,-1.595,-1.688];
const dashBRx = [0,0.09,0.16,0.205,0.241,0.286,0.321,0.356,0.392,0.427,0.452,0.487,0.512,0.542];
const dashBRy = [0,-0.14,-0.29,-0.40,-0.525,-0.643,-0.778,-0.904,-1.030,-1.174,-1.292,-1.427,-1.561,-1.696];

// ---------------- build ----------------
const W = 967, H = 1075;
const px = v => v / W, py = v => 1 - v / H;
const panels = [
  {gray: grayTL, solid: [solidTLx, solidTLy], dot: [dotTLx, dotTLy], dash: [dashTLx, dashTLy], xa: 'x',  ya: 'y'},
  {gray: grayTR, solid: [solidTRx, solidTRy], dot: [dotTRx, dotTRy], dash: [dashTRx, dashTRy], xa: 'x2', ya: 'y2'},
  {gray: grayBL, solid: [solidBLx, solidBLy], dot: [dotBLx, dotBLy], dash: [dashBLx, dashBLy], xa: 'x3', ya: 'y3'},
  {gray: grayBR, solid: [solidBRx, solidBRy], dot: [dotBRx, dotBRy], dash: [dashBRx, dashBRy], xa: 'x4', ya: 'y4'}
];
const traces = [];
panels.forEach(p => {
  p.gray.forEach(ys => traces.push({
    x: xGrid.slice(0, ys.length), y: ys, xaxis: p.xa, yaxis: p.ya, mode: 'lines',
    line: {color: '#bebebe', width: 1.2}, hoverinfo: 'skip', showlegend: false
  }));
  traces.push({x: p.dot[0], y: p.dot[1], xaxis: p.xa, yaxis: p.ya, mode: 'lines',
    line: {color: '#000', width: 5, dash: '5px,15px', shape: 'spline', smoothing: 1}, hoverinfo: 'skip', showlegend: false});
  traces.push({x: p.dash[0], y: p.dash[1], xaxis: p.xa, yaxis: p.ya, mode: 'lines',
    line: {color: '#000', width: 5, dash: '28px,24px', shape: 'spline', smoothing: 1}, hoverinfo: 'skip', showlegend: false});
  traces.push({x: p.solid[0], y: p.solid[1], xaxis: p.xa, yaxis: p.ya, mode: 'lines',
    line: {color: '#000', width: 5, shape: 'spline', smoothing: 1}, hoverinfo: 'skip', showlegend: false});
});

const fam = 'DejaVu Sans Condensed, Liberation Sans Narrow, DejaVu Sans, sans-serif';
function xAxis(dom, anchor, labels) {
  return {domain: dom, anchor: anchor, range: [0, 1.2], showgrid: false, zeroline: false,
    showline: true, linecolor: '#000', linewidth: 2, mirror: 'allticks',
    ticks: 'inside', ticklen: 14, tickwidth: 1.6, tickcolor: '#000',
    tickmode: 'array', tickvals: xTickVals, ticktext: xTickText, showticklabels: labels,
    tickfont: {family: fam, size: 30, color: '#000'}, ticklabelstandoff: 8,
    minor: {tickmode: 'linear', tick0: 0, dtick: 0.05, ticks: 'inside', ticklen: 7, tickwidth: 1.6, tickcolor: '#000'},
    fixedrange: true};
}
function yAxis(dom, anchor, labels) {
  return {domain: dom, anchor: anchor, range: [-2, 0], showgrid: false, zeroline: false,
    showline: true, linecolor: '#000', linewidth: 2, mirror: 'allticks',
    ticks: 'inside', ticklen: 14, tickwidth: 1.6, tickcolor: '#000',
    tickmode: 'array', tickvals: yTickVals, ticktext: yTickText, showticklabels: labels,
    tickfont: {family: fam, size: 28, color: '#000'}, tickangle: -90, ticklabelstandoff: 12,
    minor: {tickmode: 'linear', tick0: 0, dtick: 0.1, ticks: 'inside', ticklen: 7, tickwidth: 1.6, tickcolor: '#000'},
    fixedrange: true};
}
const xL = [px(143.3), px(541.7)], xR = [px(541.7), px(939.3)];
const yT = [py(514.5), py(119.3)], yB = [py(910), py(514.5)];

const annFont = {family: 'DejaVu Sans, sans-serif', size: 17, color: '#000'};
const annotations = [
  {text: panelLabels[0], x: px(537), y: py(154), xref: 'paper', yref: 'paper', xanchor: 'right', yanchor: 'middle', showarrow: false, font: annFont},
  {text: panelLabels[1], x: px(935), y: py(154), xref: 'paper', yref: 'paper', xanchor: 'right', yanchor: 'middle', showarrow: false, font: annFont},
  {text: panelLabels[2], x: px(537), y: py(550), xref: 'paper', yref: 'paper', xanchor: 'right', yanchor: 'middle', showarrow: false, font: annFont},
  {text: panelLabels[3], x: px(935), y: py(550), xref: 'paper', yref: 'paper', xanchor: 'right', yanchor: 'middle', showarrow: false, font: annFont},
  {text: 'Log<sub>10</sub>(1+z)', x: px(541), y: py(990), xref: 'paper', yref: 'paper', xanchor: 'center', yanchor: 'middle', showarrow: false,
   font: {family: 'DejaVu Sans, sans-serif', size: 24, color: '#000'}},
  {text: 'Log<sub>10</sub>[M(z)/M<sub>0</sub>]', x: px(80), y: py(514), xref: 'paper', yref: 'paper', xanchor: 'center', yanchor: 'middle', showarrow: false, textangle: -90,
   font: {family: 'DejaVu Sans, sans-serif', size: 26, color: '#000'}},
  {text: '6', x: px(66), y: py(45), xref: 'paper', yref: 'paper', xanchor: 'left', yanchor: 'middle', showarrow: false,
   font: {family: 'Liberation Serif, DejaVu Serif, serif', size: 32, color: '#000'}},
  {text: '<i>Li, Mo, van den Bosch &amp; Lin</i>', x: px(124), y: py(45), xref: 'paper', yref: 'paper', xanchor: 'left', yanchor: 'middle', showarrow: false,
   font: {family: 'Liberation Serif, DejaVu Serif, serif', size: 33, color: '#000'}},
  {text: '<b>Figure 2.</b> The mass assembly histories of dark matter haloes', x: px(130), y: py(1045), xref: 'paper', yref: 'paper', xanchor: 'left', yanchor: 'middle', showarrow: false,
   font: {family: 'DejaVu Serif, Liberation Serif, serif', size: 26, color: '#000'}}
];
const shapes = [
  {type: 'rect', xref: 'paper', yref: 'paper', x0: 0, x1: px(15), y0: 0, y1: 1, fillcolor: '#000', line: {width: 0}, layer: 'above'},
  {type: 'rect', xref: 'paper', yref: 'paper', x0: 0, x1: 1, y0: py(7), y1: 1, fillcolor: '#000', line: {width: 0}, layer: 'above'}
];
const layout = {
  width: W, height: H, margin: {l: 0, r: 0, t: 0, b: 0}, paper_bgcolor: '#fff', plot_bgcolor: 'rgba(0,0,0,0)',
  showlegend: false,
  xaxis: xAxis(xL, 'y', false), yaxis: yAxis(yT, 'x', true),
  xaxis2: xAxis(xR, 'y2', false), yaxis2: yAxis(yT, 'x2', false),
  xaxis3: xAxis(xL, 'y3', true), yaxis3: yAxis(yB, 'x3', true),
  xaxis4: xAxis(xR, 'y4', true), yaxis4: yAxis(yB, 'x4', false),
  annotations: annotations, shapes: shapes
};
Plotly.newPlot('chart', traces, layout, {staticPlot: true, displayModeBar: false});
</script>
</body></html>
